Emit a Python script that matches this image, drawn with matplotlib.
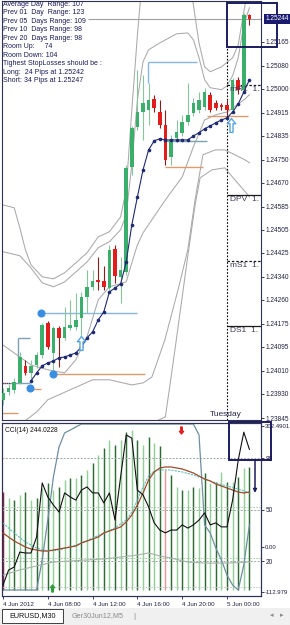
import numpy as np
import matplotlib
matplotlib.use("Agg")
import matplotlib.pyplot as plt
from matplotlib.path import Path
from matplotlib.patches import Rectangle
from matplotlib import transforms

plt.rcParams['font.family'] = ['Liberation Sans', 'DejaVu Sans']

# EURUSD M30 candles, 4 Jun 04:00 .. 5 Jun 02:00
opens = [1.23908, 1.23936, 1.23943, 1.23968, 1.24027, 1.24003, 1.24031, 1.24066, 1.24178, 1.24073,
         1.24161, 1.24125, 1.24161, 1.24164, 1.24196, 1.24269, 1.24304, 1.24329, 1.24325, 1.24301,
         1.24438, 1.24339, 1.24357, 1.24725, 1.24865, 1.24918, 1.24925, 1.24963, 1.24918, 1.24872,
         1.24760, 1.24827, 1.24844, 1.24883, 1.24914, 1.24925, 1.24935, 1.24977, 1.24949, 1.24942,
         1.24942, 1.24925, 1.25030, 1.24995, 1.25258]
highs = [1.23950, 1.23964, 1.23985, 1.24076, 1.24048, 1.24048, 1.24076, 1.24178, 1.24185, 1.24168,
         1.24168, 1.24234, 1.24259, 1.24283, 1.24287, 1.24364, 1.24364, 1.24409, 1.24378, 1.24452,
         1.24452, 1.24409, 1.24732, 1.24869, 1.25066, 1.25048, 1.25020, 1.24977, 1.24960, 1.24925,
         1.24837, 1.24890, 1.24907, 1.25020, 1.24967, 1.24988, 1.25002, 1.24988, 1.24960, 1.24949,
         1.24960, 1.25037, 1.25041, 1.25265, 1.25261]
lows = [1.23891, 1.23926, 1.23933, 1.23964, 1.23996, 1.23978, 1.24020, 1.24055, 1.24087, 1.24003,
        1.24024, 1.24118, 1.24154, 1.24154, 1.24129, 1.24213, 1.24294, 1.24294, 1.24294, 1.24294,
        1.24318, 1.24248, 1.24346, 1.24697, 1.24855, 1.24820, 1.24872, 1.24918, 1.24862, 1.24732,
        1.24732, 1.24813, 1.24834, 1.24872, 1.24904, 1.24914, 1.24925, 1.24918, 1.24925, 1.24925,
        1.24907, 1.24918, 1.24981, 1.24988, 1.25223]
closes = [1.23933, 1.23950, 1.23971, 1.24059, 1.24003, 1.24027, 1.24066, 1.24171, 1.24094, 1.24161,
          1.24125, 1.24164, 1.24171, 1.24189, 1.24269, 1.24304, 1.24325, 1.24322, 1.24304, 1.24434,
          1.24343, 1.24364, 1.24722, 1.24862, 1.24918, 1.24949, 1.24960, 1.24932, 1.24872, 1.24750,
          1.24820, 1.24848, 1.24883, 1.24907, 1.24949, 1.24960, 1.24988, 1.24925, 1.24932, 1.24935,
          1.24925, 1.25030, 1.24995, 1.25258, 1.25244]
bars = np.arange(len(opens))

bid = 1.25244
price_ticks = [1.25165, 1.25080, 1.25000, 1.24915, 1.24835, 1.24750, 1.24670, 1.24585, 1.24505,
               1.24425, 1.24340, 1.24260, 1.24175, 1.24095, 1.24010, 1.23930, 1.23845]
time_ticks = [0, 8, 16, 24, 32, 40]
time_labels = ['4 Jun 2012', '4 Jun 08:00', '4 Jun 12:00', '4 Jun 16:00', '4 Jun 20:00', '5 Jun 00:00']

# band lines (bar index, price)
up1_x = [0, 2, 3, 4, 5, 7, 9, 11, 13, 15, 17, 19, 21, 22, 23, 24, 25, 33, 34, 35, 36, 37, 39, 41, 42, 43, 44]
up1_y = [1.24592, 1.24582, 1.24512, 1.24435, 1.24382, 1.24340, 1.24333, 1.24354, 1.24389, 1.24424,
         1.24480, 1.24498, 1.24550, 1.24645, 1.24925, 1.25188, 1.25416, 1.25416, 1.25293, 1.25160,
         1.25076, 1.25059, 1.25076, 1.25108, 1.25153, 1.25269, 1.25381]
up2_x = [0, 3, 5, 7, 9, 11, 13, 15, 17, 19, 21, 22, 23, 24, 25, 26, 28, 31, 33, 34, 35, 36, 37, 39,
         40, 41, 42, 43, 44]
up2_y = [1.24428, 1.24414, 1.24371, 1.24319, 1.24305, 1.24322, 1.24357, 1.24392, 1.24442, 1.24463,
         1.24505, 1.24557, 1.24733, 1.24960, 1.25094, 1.25136, 1.25160, 1.25192, 1.25195, 1.25171,
         1.25108, 1.25031, 1.25003, 1.24996, 1.25010, 1.25045, 1.25108, 1.25223, 1.25283]
lo1_x = [0, 3, 5, 8, 11, 13, 15, 17, 19, 22, 23, 24, 25, 29, 32, 34, 36, 38, 40, 43, 44]
lo1_y = [1.24101, 1.24059, 1.24031, 1.24014, 1.24003, 1.24049, 1.24130, 1.24259, 1.24305, 1.24322,
         1.24389, 1.24452, 1.24494, 1.24610, 1.24690, 1.24796, 1.24890, 1.24908, 1.24918, 1.24960,
         1.24978]
lo2_x = [0, 3, 6, 8, 12, 16, 19, 23, 25, 26.6, 28.9, 31.25, 33, 34.3, 35.7, 37.9, 39.6, 41.4, 43.2, 44]
lo2_y = [1.23803, 1.23821, 1.23866, 1.23909, 1.23944, 1.23979, 1.23979, 1.23961, 1.23968, 1.23989,
         1.24119, 1.24294, 1.24435, 1.24610, 1.24768, 1.24785, 1.24785, 1.24768, 1.24750, 1.24740]
lo3_x = [0, 10, 17, 23, 26, 29, 30.7, 32.9, 34.3, 35.2, 37.3, 39.6, 41.4, 43.75, 44]
lo3_y = [1.23733, 1.23751, 1.23768, 1.23803, 1.23821, 1.23849, 1.24084, 1.24399, 1.24592, 1.24687,
         1.24715, 1.24722, 1.24680, 1.24627, 1.24620]

# dotted moving average
ma_x = list(range(5, 45))
ma_y = [1.23975, 1.24003, 1.24028, 1.24038, 1.24045, 1.24056, 1.24059, 1.24066, 1.24073, 1.24094,
        1.24126, 1.24147, 1.24189, 1.24217, 1.24287, 1.24301, 1.24315, 1.24392, 1.24522, 1.24620,
        1.24715, 1.24785, 1.24817, 1.24824, 1.24820, 1.24820, 1.24820, 1.24820, 1.24820, 1.24834,
        1.24845, 1.24859, 1.24869, 1.24880, 1.24890, 1.24897, 1.24918, 1.24946, 1.24988, 1.25031]

# support / resistance segments: price, from bar, to bar
lvl_price = [1.24214, 1.23947, 1.23999, 1.23863, 1.24126, 1.23968, 1.25094, 1.24817, 1.24725, 1.24904]
lvl_x0 = [6.8, 4.8, 8.9, -0.2, 2.7, -0.2, 25.9, 28.9, 28.9, 36.4]
lvl_x1 = [23.9, 6.8, 25.4, 2.7, 4.8, 4.8, 34.6, 36.4, 35.7, 43.75]
lvl_kind = ['blue', 'orange', 'orange', 'orange', 'slate', 'slate', 'blue', 'slate', 'orange', 'orange']
dot_x = [6.8, 4.8, 8.9]
dot_y = [1.24214, 1.23951, 1.23999]
uparrow_x = [13.9, 40.7]
uparrow_y = [1.24108, 1.24873]

# pivots
piv_names = ['mR1', 'DPV', 'mS1', 'DS1']
piv_price = [1.25013, 1.24627, 1.24396, 1.24168]
piv_dashed = [True, False, True, False]

info_lines = ['Average Day  Range: 107', 'Prev 01  Day  Range: 123', 'Prev 05  Days Range: 109',
              'Prev 10  Days Range: 98', 'Prev 20  Days Range: 98', 'Room Up:     74',
              'Room Down: 104', 'Tighest StopLosses should be :', 'Long:  24 Pips at 1.25242',
              'Short: 34 Pips at 1.25247']

# CCI sub-window
cci = [-95.5, -58, -50.5, -13, -15.4, -15.4, 24.7, 160, 124.8, 104.7, 87, 135, 125, 117, 142, 150,
       135, 135, 110, 135, 67, 175, 280, 272, 142, 130, 100, 60, 42, 35, 42, 42, 55, 47, 55, 67, 85,
       55, 60, 50, 50, 117, 217, 287, 244.0228]
cci_ma = [34.7, 24.6, 14.6, 7.1, -0.4, -5.4, -7.9, -10.4, -10.4, -7.9, -5.4, -2.9, -0.4, 2.1, 9.6,
          14.6, 19.6, 24.6, 34.7, 39.7, 44.7, 49.7, 62.2, 79.7, 104.7, 134.8, 167.3, 187.4, 197.4,
          199.9, 199.9, 197.4, 194.9, 189.9, 184.9, 177.3, 169.8, 164.8, 157.3, 152.3, 147.3, 142.3,
          137.3, 134.8, 137.3]
sig_x = [0, 2, 4, 6, 8, 10, 12, 14, 16, 18, 20, 22, 23, 24, 25, 26, 27, 28, 30, 32, 34, 36, 38, 40, 42, 44]
sig_y = [59.7, 34.7, 12.1, -2.9, -10.4, -7.9, -0.4, 9.6, 22.1, 34.7, 47.2, 67.2, 87.2, 117.3, 149.8,
         177.3, 189.9, 192.4, 192.4, 187.4, 179.9, 169.8, 159.8, 152.3, 144.8, 134.8]
stoch = [3.1, 3.1, 3.1, 3.1, 3.1, 3.1, 3.1, 20.6, 43.9, 68.9, 86.4, 94.6, 96.3, 98.1,
         99.8, 99.8, 99.8, 99.8, 99.8, 99.8, 99.8, 99.8, 99.8, 99.8, 99.8, 99.8, 99.8, 99.8,
         99.8, 99.8, 99.8, 99.8, 99.8, 99.8, 99.8,
         93.4, 41.0, 36.3, 27.6, 20.6, 11.8, 6.0, 3.1, 17.7, 41.0]
slow_x = [0, 3, 6, 9, 12, 15, 18, 21, 24, 26, 28, 30, 33, 36, 40, 44]
slow_y = [11.8, 14.8, 17.1, 19.4, 20.0, 20.6, 21.2, 22.3, 23.5, 24.7, 22.9, 21.7, 19.4, 18.8, 18.8, 19.4]
hist = [60.2, 56.7, 55.5, 58.4, 60.2, 55.5, 56.7, 62.5, 65.4, 61.4,
        63.1, 67.2, 68.3, 68.3, 70.1, 73.0, 77.1, 81.7, 85.8, 90.5,
        87.6, 90.5, 95.1, 96.3, 90.5, 87.6, 92.2, 88.7, 87.0, 73.0,
        70.1, 63.1, 61.4, 61.4, 63.1, 62.5, 71.3, 65.4, 66.0, 71.8,
        66.0, 66.0, 68.9, 74.2, 74.8]
hist_pink = [0, 29]

NAVY = '#1c1c5e'
FRAME = '#2e3356'
XMIN, XMAX = -0.18, 46.07

fig = plt.figure(figsize=(2.9, 6.25), dpi=100)
fig.patch.set_facecolor('white')

# ---------------- main price window ----------------
ax = fig.add_axes([2 / 290, 205 / 625, 259 / 290, 419 / 625])
ax.set_xlim(XMIN, XMAX)
ax.set_ylim(1.23838, 1.25307)
for s in ax.spines.values():
    s.set_color(FRAME)
    s.set_linewidth(0.8)
ax.set_xticks([])
ax.yaxis.tick_right()
ax.set_yticks(price_ticks)
ax.set_yticklabels([f'{p:.5f}' for p in price_ticks])
ax.tick_params(axis='y', length=2.5, width=0.6, pad=1, labelsize=4.7, colors='#202040')

band_col = '#a9a9a9'
for bx, by in [(up1_x, up1_y), (up2_x, up2_y), (lo1_x, lo1_y), (lo2_x, lo2_y), (lo3_x, lo3_y)]:
    ax.plot(bx, by, color=band_col, lw=0.75, zorder=1)

kind_col = {'blue': '#86b7dc', 'orange': '#d89c70', 'slate': '#7ca2b4'}
for p, x0, x1, k in zip(lvl_price, lvl_x0, lvl_x1, lvl_kind):
    ax.hlines(p, x0, x1, color=kind_col[k], lw=1.0, zorder=2)
# little brackets
ax.vlines(2.7, 1.24059, 1.24126, color=kind_col['slate'], lw=1.0, zorder=2)
ax.vlines(25.9, 1.25020, 1.25094, color=kind_col['blue'], lw=1.0, zorder=2)
ax.hlines(1.23968, XMIN, 1.5, color='#8b2c2c', lw=0.8, linestyles=(0, (1, 1)), zorder=2)

# bid line
ax.hlines(bid, 15.2, XMAX, color='#a0a0a0', lw=0.8, zorder=1)

# pivots and day separator
for name, p, dsh in zip(piv_names, piv_price, piv_dashed):
    ax.hlines(p, 40, XMAX, color='#1a1a1a', lw=0.9,
              linestyles=(0, (2, 1.5)) if dsh else 'solid', zorder=2)
    ax.text(40.6, p - 0.00017, f'{name}  1.', fontsize=6, color='#3a3a55',
            ha='left', va='center', zorder=6)
ax.vlines(40, 1.23838, 1.25146, color='black', lw=0.8, linestyles=(0, (1.5, 1.5)), zorder=2)
ax.text(39.8, 1.23858, 'Tuesday', fontsize=6, color='#2a2a50', ha='center', va='center')

# candles
up = np.array(closes) >= np.array(opens)
for i in bars:
    o, h, l, c = opens[i], highs[i], lows[i], closes[i]
    wick = '#88c49c' if up[i] else '#8b1d1d'
    body = '#3cae6c' if up[i] else '#e31c1c'
    ax.vlines(i, l, h, color=wick, lw=0.8, zorder=3)
    bot = min(o, c)
    hgt = max(abs(c - o), 0.00004)
    ax.bar(i, hgt, bottom=bot, width=0.62, color=body, lw=0, zorder=4)

ax.plot(ma_x, ma_y, color='#1f2a70', lw=0.8, marker='o', ms=1.6, zorder=5)
ax.plot(dot_x, dot_y, 'o', color='#3a8fe3', ms=4.8, zorder=6)

arrow = Path([(0, 1), (0.6, 0.25), (0.22, 0.25), (0.22, -1), (-0.22, -1), (-0.22, 0.25),
              (-0.6, 0.25), (0, 1)],
             [Path.MOVETO] + [Path.LINETO] * 6 + [Path.CLOSEPOLY])
arrow_dn = Path(arrow.vertices * np.array([1, -1]), arrow.codes)
ax.plot(uparrow_x, uparrow_y, ls='none', marker=arrow, ms=10, mfc='white', mec='#5aa3dc',
        mew=1.0, zorder=6)

# current-box and highlighted bid label
ax.add_patch(Rectangle((40, 1.25146), 8.9, 1.25300 - 1.25146, fill=False, ec=NAVY, lw=1.4,
                       clip_on=False, zorder=7))
blend = transforms.blended_transform_factory(ax.transAxes, ax.transData)
ax.text(1.016, bid, '1.25244', transform=blend, fontsize=4.7, color='white', ha='left',
        va='center', zorder=8,
        bbox=dict(boxstyle='square,pad=0.25', fc='#1a1a6e', ec='none'))

# ---------------- CCI window ----------------
cx = fig.add_axes([2 / 290, 29 / 625, 259 / 290, 173 / 625])
cx.set_xlim(XMIN, XMAX)
cx.set_ylim(-123.0, 310.0)
ox = cx.twinx()
ox.set_ylim(-0.39, 100.4)
ox.set_zorder(cx.get_zorder() - 1)
cx.patch.set_visible(False)
ox.patch.set_facecolor('white')
for a in (cx, ox):
    for s in a.spines.values():
        s.set_color(FRAME)
        s.set_linewidth(0.8)

cx.yaxis.tick_right()
cx.set_yticks([302.4901, 0.0, -112.979])
cx.set_yticklabels(['302.4901', '0.00', '-112.979'])
cx.tick_params(axis='y', length=2, width=0.6, pad=0.6, labelsize=4.3, colors='#202040')
ox.set_yticks([80, 50, 20])
ox.set_yticklabels(['80', '50', '20'])
ox.tick_params(axis='y', length=2.5, width=0.6, pad=1, labelsize=4.7, colors='#202040')
cx.set_xticks(time_ticks)
cx.set_xticklabels(time_labels, ha='left')
cx.tick_params(axis='x', length=2.5, width=0.6, pad=1.5, labelsize=4.5, colors='#202040')

hist_cols = []
for i in bars:
    if i in hist_pink:
        hist_cols.append('#8b2040' if i == 0 else '#e39a9a')
    else:
        hist_cols.append('#2f6b35' if i % 2 == 0 else '#93cf98')
ox.vlines(bars, 3.1, hist, colors=hist_cols, lw=1.05, zorder=1)

for lv in (80, 50, 20):
    ox.axhline(lv, color='#9aa8a0', lw=0.7, ls=(0, (2, 1.5)), zorder=2)
ox.axhline(21.5, color='#9cc89c', lw=0.6, ls=(0, (2, 1.5)), zorder=2)
ox.plot(bars, stoch, color='#6e8ea0', lw=0.9, zorder=3)
ox.plot(slow_x, slow_y, color='#a4b4a8', lw=0.8, zorder=3)

cx.axhline(100, color='#a8c8a8', lw=0.6, ls=(0, (2, 1.5)), zorder=2)
cx.axhline(-100, color='#c0c0c0', lw=0.6, ls=(0, (2, 1.5)), zorder=2)
cx.plot(sig_x, sig_y, color='#62bcbc', lw=0.8, ls=(0, (2, 1)), zorder=3)
cx.plot(bars, cci_ma, color='#9c4a2a', lw=0.9, zorder=4)
cx.plot(bars, cci, color='#111111', lw=0.8, zorder=5)
cx.plot([31.8], [292.0], ls='none', marker=arrow_dn, ms=5, color='#e02020', zorder=6)
cx.plot([8.75], [-103.0], ls='none', marker=arrow, ms=5, color='#2e9e3e', zorder=6)
cx.text(0.4, 291, 'CCI(14) 244.0228', fontsize=4.8, color='#111111', ha='left', va='center', zorder=7)

cx.add_patch(Rectangle((40.4, 217.4), 7.5, 312.0 - 217.4, fill=False, ec=NAVY, lw=1.4,
                       clip_on=False, zorder=7))
cx.annotate('', xy=(45, 135), xytext=(45, 217.4),
            arrowprops=dict(arrowstyle='-|>', color=NAVY, lw=1.1, mutation_scale=5,
                            shrinkA=0, shrinkB=0), annotation_clip=False, zorder=7)

# ---------------- info text ----------------
for k, line in enumerate(info_lines):
    fig.text(3 / 290, 1 - (4.5 + 8.45 * k) / 625, line, fontsize=5.0, color='#1b1b55',
             ha='left', va='center')

# ---------------- tab bar ----------------
fig.add_artist(Rectangle((0, 0), 1, 17 / 625, transform=fig.transFigure, fc='#f0f0f0',
                         ec='none', zorder=0))
fig.add_artist(Rectangle((2 / 290, 2 / 625), 61 / 290, 14 / 625, transform=fig.transFigure,
                         fc='white', ec='#222222', lw=0.6))
fig.text(32.5 / 290, 9 / 625, 'EURUSD,M30', fontsize=5.2, color='#111111', ha='center', va='center')
fig.text(98 / 290, 9 / 625, 'Ger30Jun12,M5', fontsize=5.2, color='#8a8a8a', ha='center', va='center')
fig.text(134 / 290, 9 / 625, '|', fontsize=6, color='#8a8a8a', ha='center', va='center')
fig.text(272 / 290, 9 / 625, '◂', fontsize=5, color='#8a8a8a', ha='center', va='center')
fig.text(282 / 290, 9 / 625, '▸', fontsize=5, color='#8a8a8a', ha='center', va='center')

fig.savefig('out.png', dpi=100, facecolor='white')
